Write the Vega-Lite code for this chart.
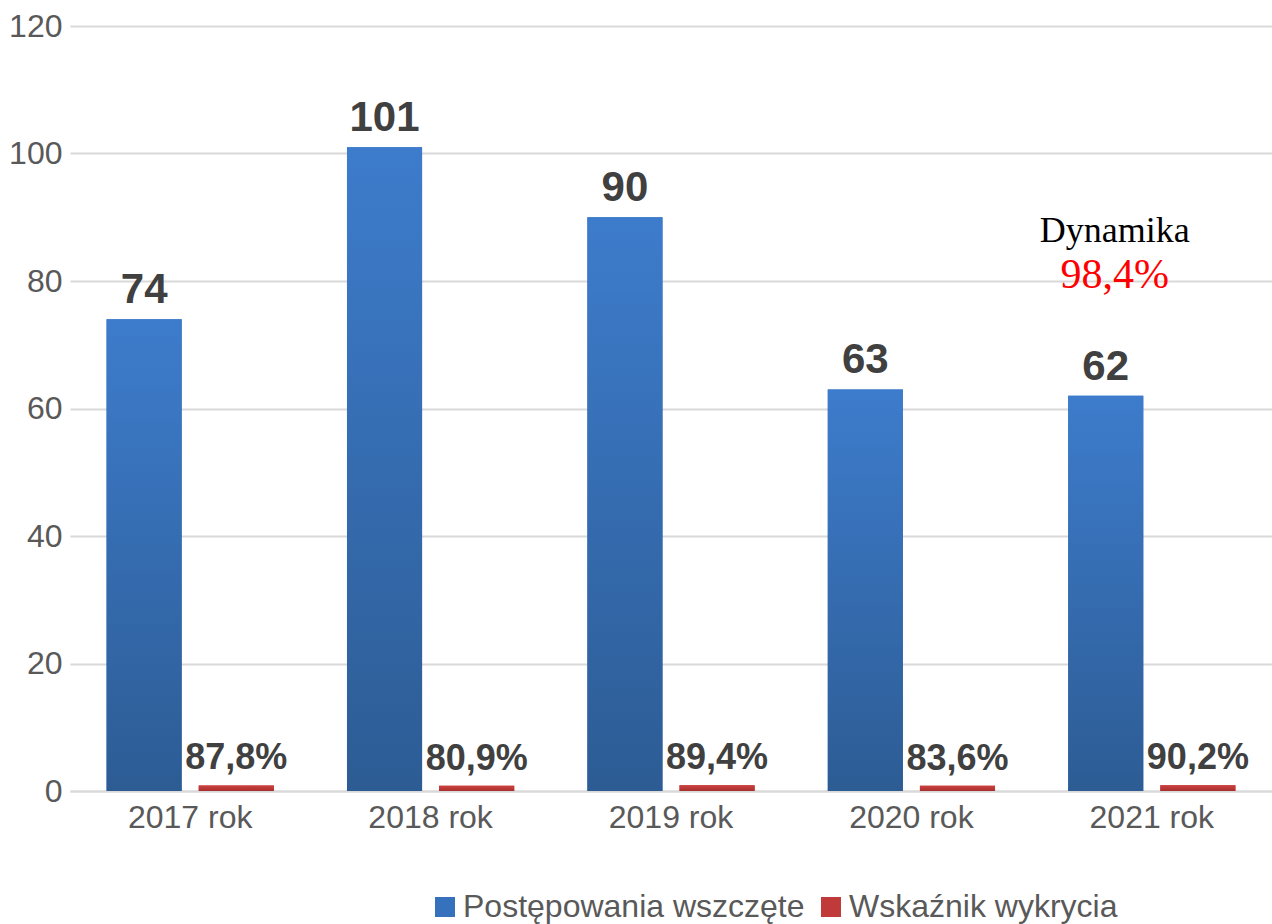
{
  "$schema": "https://vega.github.io/schema/vega-lite/v6.json",
  "width": 1202,
  "height": 765,
  "autosize": {"type": "none"},
  "padding": {"left": 70, "top": 26, "right": 0, "bottom": 133},
  "background": "white",
  "config": {"view": {"stroke": null}, "font": "Liberation Sans"},
  "data": {
    "values": [
      {"year": "2017 rok", "series": "Postępowania wszczęte", "value": 74, "label": "74"},
      {"year": "2017 rok", "series": "Wskaźnik wykrycia", "value": 0.878, "label": "87,8%"},
      {"year": "2018 rok", "series": "Postępowania wszczęte", "value": 101, "label": "101"},
      {"year": "2018 rok", "series": "Wskaźnik wykrycia", "value": 0.809, "label": "80,9%"},
      {"year": "2019 rok", "series": "Postępowania wszczęte", "value": 90, "label": "90"},
      {"year": "2019 rok", "series": "Wskaźnik wykrycia", "value": 0.894, "label": "89,4%"},
      {"year": "2020 rok", "series": "Postępowania wszczęte", "value": 63, "label": "63"},
      {"year": "2020 rok", "series": "Wskaźnik wykrycia", "value": 0.836, "label": "83,6%"},
      {"year": "2021 rok", "series": "Postępowania wszczęte", "value": 62, "label": "62"},
      {"year": "2021 rok", "series": "Wskaźnik wykrycia", "value": 0.902, "label": "90,2%"}
    ]
  },
  "encoding": {
    "x": {
      "field": "year", "type": "nominal",
      "scale": {"paddingInner": 0, "paddingOuter": 0},
      "axis": {"title": null, "labelAngle": 0, "labelFontSize": 32, "labelColor": "#595959", "labelFont": "Liberation Sans", "ticks": false, "domainColor": "#d9d9d9", "domainWidth": 2, "labelPadding": 11}
    },
    "y": {
      "field": "value", "type": "quantitative",
      "scale": {"domain": [0, 120]},
      "axis": {"title": null, "values": [0, 20, 40, 60, 80, 100, 120], "grid": true, "gridColor": "#d9d9d9", "gridWidth": 2, "domain": false, "ticks": false, "labelFontSize": 32, "labelColor": "#595959", "labelFont": "Liberation Sans", "labelPadding": 8}
    }
  },
  "layer": [
    {
      "mark": {"type": "bar"},
      "encoding": {
        "xOffset": {"field": "series", "type": "nominal", "scale": {"domain": ["Postępowania wszczęte", "Wskaźnik wykrycia"], "paddingInner": 0.185, "paddingOuter": 0.397}},
        "color": {
          "field": "series", "type": "nominal",
          "scale": {"domain": ["Postępowania wszczęte", "Wskaźnik wykrycia"], "range": ["#3671bd", "#bf3a38"]},
          "legend": {"title": null, "orient": "none", "legendX": 359, "legendY": 865, "direction": "horizontal", "symbolType": "square", "symbolSize": 400, "symbolStrokeWidth": 0, "labelFontSize": 32, "labelColor": "#595959", "labelFont": "Liberation Sans", "labelOffset": 2, "columnPadding": 10, "labelLimit": 600}
        }
      }
    },
    {
      "transform": [{"filter": "datum.series === 'Postępowania wszczęte'"}],
      "mark": {"type": "bar", "fill": {"gradient": "linear", "x1": 0, "y1": 0, "x2": 0, "y2": 1, "stops": [{"offset": 0, "color": "#3d7ccc"}, {"offset": 1, "color": "#2d5c94"}]}},
      "encoding": {
        "xOffset": {"field": "series", "type": "nominal"}
      }
    },
    {
      "transform": [{"filter": "datum.series === 'Wskaźnik wykrycia'"}],
      "mark": {"type": "bar", "fill": {"gradient": "linear", "x1": 0, "y1": 0, "x2": 0, "y2": 1, "stops": [{"offset": 0, "color": "#cc413e"}, {"offset": 1, "color": "#a83030"}]}},
      "encoding": {
        "xOffset": {"field": "series", "type": "nominal"}
      }
    },
    {
      "mark": {"type": "text", "baseline": "alphabetic", "align": "center", "dy": -16, "fontWeight": "bold", "color": "#404040", "font": "Liberation Sans"},
      "encoding": {
        "xOffset": {"field": "series", "type": "nominal"},
        "text": {"field": "label"},
        "size": {"condition": {"test": "datum.series === 'Postępowania wszczęte'", "value": 42}, "value": 36}
      }
    },
    {
      "data": {"values": [{"year": "2021 rok", "value": 86.1, "label": "Dynamika"}]},
      "mark": {"type": "text", "baseline": "alphabetic", "align": "center", "dx": -37, "font": "Liberation Serif", "fontSize": 36, "color": "#000000"},
      "encoding": {"text": {"field": "label"}}
    },
    {
      "data": {"values": [{"year": "2021 rok", "value": 78.9, "label": "98,4%"}]},
      "mark": {"type": "text", "baseline": "alphabetic", "align": "center", "dx": -37, "font": "Liberation Serif", "fontSize": 42, "color": "#ff0000"},
      "encoding": {"text": {"field": "label"}}
    }
  ]
}
